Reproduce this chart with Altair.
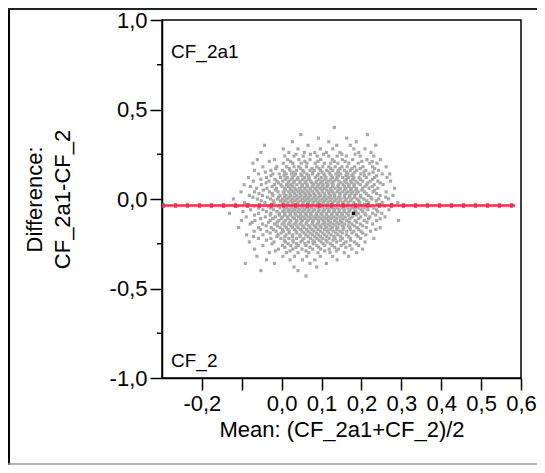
import altair as alt
import pandas as pd

# ---------------- data ----------------
diff_levels = [0.40, 0.36, 0.34, 0.32, 0.30, 0.28, 0.26, 0.24, 0.22, 0.20, 0.18, 0.16,
               0.14, 0.12, 0.10, 0.08, 0.06, 0.04, 0.02, 0.00, -0.02, -0.04, -0.06,
               -0.08, -0.10, -0.12, -0.14, -0.16, -0.18, -0.20, -0.22, -0.24, -0.26,
               -0.28, -0.30, -0.32, -0.34, -0.36, -0.38, -0.40, -0.43]

mean_rows = [
    [0.132],
    [0.048, 0.215],
    [0.092, 0.163],
    [0.027, 0.118, 0.187],
    [-0.043, 0.066, 0.138, 0.172, 0.236],
    [0.004, 0.041, 0.097, 0.128, 0.181, 0.209],
    [-0.052, 0.018, 0.057, 0.083, 0.112, 0.146, 0.193, 0.224],
    [0.008, 0.031, 0.054, 0.089, 0.118, 0.139, 0.162, 0.197, 0.231],
    [-0.061, -0.018, 0.015, 0.043, 0.071, 0.098, 0.127, 0.152, 0.178, 0.214, 0.248],
    [-0.072, 0.004, 0.028, 0.049, 0.063, 0.084, 0.107, 0.123, 0.141, 0.168, 0.192, 0.221, 0.239],
    [-0.047, -0.012, 0.012, 0.031, 0.043, 0.062, 0.088, 0.103, 0.118, 0.134, 0.151, 0.164, 0.183, 0.204, 0.228, 0.262],
    [-0.068, -0.027, 0.002, 0.021, 0.037, 0.053, 0.071, 0.082, 0.097, 0.113, 0.128, 0.142, 0.157, 0.172, 0.188, 0.211, 0.243],
    [-0.058, -0.022, -0.006, 0.011, 0.024, 0.035, 0.048, 0.063, 0.077, 0.092, 0.106, 0.121, 0.136, 0.148, 0.166, 0.179, 0.198, 0.219, 0.252, 0.271],
    [-0.083, -0.038, -0.003, 0.014, 0.027, 0.041, 0.058, 0.069, 0.084, 0.099, 0.111, 0.127, 0.139, 0.153, 0.167, 0.181, 0.194, 0.212, 0.233, 0.264],
    [-0.071, -0.032, -0.012, 0.003, 0.018, 0.032, 0.046, 0.061, 0.073, 0.088, 0.102, 0.117, 0.131, 0.144, 0.158, 0.173, 0.186, 0.203, 0.222, 0.241, 0.273],
    [-0.094, -0.051, -0.018, -0.002, 0.012, 0.023, 0.038, 0.052, 0.064, 0.079, 0.093, 0.104, 0.116, 0.129, 0.142, 0.154, 0.169, 0.182, 0.197, 0.213, 0.232, 0.254],
    [-0.063, -0.037, -0.013, 0.008, 0.021, 0.033, 0.044, 0.057, 0.071, 0.083, 0.096, 0.108, 0.122, 0.134, 0.147, 0.161, 0.174, 0.188, 0.203, 0.219, 0.241, 0.283],
    [-0.102, -0.068, -0.031, -0.009, 0.004, 0.017, 0.029, 0.042, 0.053, 0.066, 0.078, 0.091, 0.103, 0.117, 0.128, 0.139, 0.152, 0.166, 0.178, 0.192, 0.208, 0.229, 0.262],
    [-0.081, -0.048, -0.022, -0.004, 0.011, 0.023, 0.037, 0.049, 0.061, 0.072, 0.084, 0.097, 0.109, 0.122, 0.133, 0.146, 0.158, 0.171, 0.183, 0.198, 0.217, 0.247, 0.279],
    [-0.121, -0.061, -0.028, -0.011, 0.002, 0.014, 0.027, 0.039, 0.052, 0.064, 0.076, 0.088, 0.101, 0.113, 0.124, 0.137, 0.149, 0.162, 0.176, 0.189, 0.206, 0.226, 0.243, 0.268],
    [-0.093, -0.042, -0.019, 0.003, 0.016, 0.028, 0.041, 0.054, 0.067, 0.079, 0.091, 0.104, 0.116, 0.128, 0.141, 0.153, 0.167, 0.181, 0.196, 0.218, 0.252, 0.291],
    [-0.112, -0.069, -0.033, -0.008, 0.007, 0.021, 0.036, 0.048, 0.061, 0.073, 0.086, 0.098, 0.111, 0.123, 0.136, 0.148, 0.161, 0.174, 0.187, 0.201, 0.223, 0.258],
    [-0.078, -0.047, -0.021, 0.006, 0.019, 0.032, 0.044, 0.057, 0.069, 0.082, 0.094, 0.107, 0.119, 0.132, 0.144, 0.157, 0.171, 0.184, 0.199, 0.216, 0.238, 0.269],
    [-0.131, -0.058, -0.027, -0.006, 0.008, 0.022, 0.034, 0.047, 0.059, 0.072, 0.087, 0.099, 0.112, 0.126, 0.138, 0.151, 0.163, 0.192, 0.209, 0.228, 0.251],
    [-0.089, -0.041, -0.016, 0.002, 0.014, 0.028, 0.042, 0.054, 0.068, 0.081, 0.093, 0.106, 0.118, 0.131, 0.146, 0.159, 0.177, 0.198, 0.221, 0.259],
    [-0.101, -0.067, -0.029, -0.007, 0.009, 0.023, 0.038, 0.052, 0.066, 0.079, 0.092, 0.104, 0.117, 0.133, 0.147, 0.163, 0.184, 0.207, 0.238, 0.293],
    [-0.079, -0.048, -0.018, 0.001, 0.017, 0.031, 0.046, 0.061, 0.076, 0.089, 0.103, 0.116, 0.129, 0.144, 0.158, 0.176, 0.197, 0.228],
    [-0.108, -0.058, -0.026, -0.004, 0.012, 0.027, 0.041, 0.056, 0.071, 0.086, 0.099, 0.112, 0.127, 0.141, 0.156, 0.171, 0.189, 0.212, 0.247],
    [-0.069, -0.037, -0.014, 0.004, 0.019, 0.036, 0.051, 0.066, 0.081, 0.097, 0.114, 0.129, 0.146, 0.163, 0.181, 0.199, 0.223],
    [-0.088, -0.047, -0.009, 0.011, 0.028, 0.046, 0.061, 0.077, 0.092, 0.108, 0.124, 0.141, 0.162, 0.187, 0.211],
    [-0.058, -0.027, -0.002, 0.018, 0.037, 0.056, 0.072, 0.088, 0.103, 0.119, 0.134, 0.152, 0.172, 0.198, 0.231],
    [-0.081, -0.019, 0.009, 0.029, 0.048, 0.067, 0.083, 0.099, 0.114, 0.138, 0.161, 0.182, 0.209],
    [-0.047, 0.002, 0.023, 0.042, 0.061, 0.088, 0.108, 0.127, 0.149, 0.171, 0.193],
    [-0.068, -0.008, 0.028, 0.051, 0.078, 0.098, 0.119, 0.142, 0.176, 0.203],
    [-0.031, 0.012, 0.041, 0.068, 0.091, 0.121, 0.157, 0.188],
    [-0.062, 0.003, 0.032, 0.063, 0.097, 0.128, 0.168],
    [-0.038, 0.021, 0.052, 0.083, 0.139],
    [-0.091, -0.018, 0.071, 0.112],
    [0.031, 0.088],
    [-0.052, 0.041],
    [0.061],
]

# in-between levels of the dense core
core_levels = [0.25, 0.21, 0.17, 0.15, 0.13, 0.11, 0.09, 0.07, 0.05, 0.03, 0.01, -0.01,
               -0.03, -0.05, -0.07, -0.09, -0.11, -0.13, -0.15, -0.17, -0.19, -0.21,
               -0.23, -0.25, -0.27, -0.29]

core_rows = [
    [0.036, 0.072, 0.105, 0.151, 0.184],
    [-0.031, 0.022, 0.058, 0.091, 0.132, 0.159, 0.201, 0.227],
    [-0.015, 0.019, 0.047, 0.076, 0.094, 0.123, 0.146, 0.176, 0.197, 0.233],
    [-0.041, 0.007, 0.029, 0.056, 0.078, 0.101, 0.119, 0.141, 0.163, 0.183, 0.206, 0.229],
    [-0.027, 0.006, 0.031, 0.051, 0.067, 0.089, 0.108, 0.124, 0.142, 0.161, 0.176, 0.207, 0.238],
    [-0.052, -0.017, 0.009, 0.024, 0.039, 0.053, 0.068, 0.094, 0.109, 0.123, 0.137, 0.162, 0.178, 0.197, 0.228],
    [-0.039, -0.008, 0.016, 0.029, 0.046, 0.059, 0.076, 0.086, 0.098, 0.112, 0.126, 0.149, 0.163, 0.176, 0.191, 0.216, 0.247],
    [-0.078, -0.024, 0.001, 0.016, 0.028, 0.051, 0.064, 0.077, 0.089, 0.102, 0.114, 0.128, 0.141, 0.157, 0.168, 0.181, 0.209, 0.227],
    [-0.046, -0.016, 0.009, 0.024, 0.036, 0.048, 0.061, 0.073, 0.087, 0.101, 0.113, 0.124, 0.143, 0.158, 0.173, 0.186, 0.201, 0.233],
    [-0.057, -0.024, 0.006, 0.021, 0.033, 0.046, 0.058, 0.069, 0.081, 0.094, 0.107, 0.119, 0.131, 0.146, 0.161, 0.174, 0.187, 0.212, 0.238],
    [-0.072, -0.036, -0.008, 0.007, 0.019, 0.031, 0.044, 0.057, 0.068, 0.081, 0.093, 0.106, 0.118, 0.131, 0.143, 0.157, 0.169, 0.183, 0.198, 0.224, 0.261],
    [-0.051, -0.021, -0.003, 0.009, 0.023, 0.034, 0.047, 0.059, 0.071, 0.084, 0.096, 0.108, 0.121, 0.133, 0.146, 0.159, 0.172, 0.193, 0.213, 0.237],
    [-0.083, -0.026, 0.001, 0.013, 0.026, 0.039, 0.052, 0.064, 0.077, 0.089, 0.102, 0.114, 0.127, 0.141, 0.153, 0.166, 0.179, 0.194, 0.208, 0.239, 0.276],
    [-0.058, -0.029, -0.004, 0.012, 0.026, 0.039, 0.052, 0.063, 0.076, 0.091, 0.103, 0.115, 0.127, 0.139, 0.152, 0.166, 0.178, 0.192, 0.207, 0.231],
    [-0.097, -0.038, -0.012, 0.003, 0.016, 0.028, 0.041, 0.053, 0.066, 0.078, 0.092, 0.104, 0.118, 0.131, 0.144, 0.157, 0.169, 0.186, 0.203, 0.241],
    [-0.068, -0.029, -0.006, 0.008, 0.021, 0.036, 0.048, 0.062, 0.074, 0.087, 0.101, 0.113, 0.125, 0.139, 0.152, 0.168, 0.187, 0.211, 0.236],
    [-0.053, -0.022, -0.001, 0.016, 0.032, 0.047, 0.059, 0.073, 0.086, 0.099, 0.112, 0.124, 0.138, 0.154, 0.171, 0.193, 0.218, 0.247],
    [-0.074, -0.033, -0.011, 0.006, 0.021, 0.036, 0.049, 0.063, 0.078, 0.093, 0.108, 0.122, 0.138, 0.151, 0.169, 0.188, 0.214],
    [-0.039, -0.011, 0.008, 0.023, 0.038, 0.053, 0.068, 0.082, 0.096, 0.109, 0.121, 0.136, 0.152, 0.167, 0.182, 0.203],
    [-0.053, -0.021, 0.002, 0.016, 0.032, 0.047, 0.062, 0.076, 0.091, 0.107, 0.121, 0.138, 0.154, 0.172, 0.193, 0.236],
    [-0.029, -0.001, 0.019, 0.038, 0.056, 0.071, 0.087, 0.103, 0.118, 0.136, 0.152, 0.176, 0.203],
    [-0.071, -0.012, 0.008, 0.027, 0.046, 0.066, 0.083, 0.097, 0.113, 0.131, 0.148, 0.168, 0.191],
    [-0.038, 0.007, 0.028, 0.052, 0.078, 0.094, 0.111, 0.129, 0.147, 0.173],
    [-0.024, 0.016, 0.037, 0.058, 0.079, 0.104, 0.122, 0.156, 0.188],
    [0.008, 0.036, 0.071, 0.093, 0.133, 0.161],
    [-0.016, 0.021, 0.061, 0.108, 0.137],
]

highlight_mean = [0.18]
highlight_diff = [-0.08]

mean_difference = -0.037
line_start = -0.3
line_end = 0.585

x_ticks = [-0.2, -0.1, 0.0, 0.1, 0.2, 0.3, 0.4, 0.5, 0.6]
y_ticks = [-1.0, -0.5, 0.0, 0.5, 1.0]
y_minor_ticks = [-0.75, -0.25, 0.25, 0.75]
corner_labels = ["CF_2a1", "CF_2"]

x_title = "Mean: (CF_2a1+CF_2)/2"
y_title = ["Difference:", "CF_2a1-CF_2"]

# ---------------- tables ----------------
rows = []
for d, ms in list(zip(diff_levels, mean_rows)) + list(zip(core_levels, core_rows)):
    for m in ms:
        rows.append({"mean": m, "diff": d})
points = pd.DataFrame(rows)
highlight = pd.DataFrame({"mean": highlight_mean, "diff": highlight_diff})
mean_line = pd.DataFrame({"x": [line_start], "x2": [line_end], "y": [mean_difference]})
minor = pd.DataFrame({"v": y_minor_ticks})

FONT = "Liberation Sans"
RED = "#e8334b"
GRAY = "#a8a8a8"

fmt = "replace(replace(format(datum.value, '.1f'), '.', ','), '\u2212', '-')"

x_scale = alt.Scale(domain=[-0.3, 0.6], nice=False, zero=False)
y_scale = alt.Scale(domain=[-1.0, 1.0], nice=False, zero=False)

x_axis = alt.Axis(values=x_ticks, labelExpr="abs(datum.value + 0.1) < 0.01 ? '' : " + fmt,
                  tickSize=12, labelPadding=3, titlePadding=5, grid=False,
                  labelFlush=False, labelOverlap=False)
y_axis = alt.Axis(values=y_ticks, labelExpr=fmt, tickSize=12, labelPadding=3,
                  titlePadding=35, titleLineHeight=28, grid=False, labelFlush=False,
                  labelOverlap=False)


def X(field):
    return alt.X(field, type="quantitative", scale=x_scale, axis=x_axis, title=x_title)


def Y(field):
    return alt.Y(field, type="quantitative", scale=y_scale, axis=y_axis, title=y_title)


pts_layer = alt.Chart(points).mark_square(size=10, color=GRAY, opacity=1, strokeWidth=0).encode(
    x=X("mean"), y=Y("diff"))

hl_layer = alt.Chart(highlight).mark_square(size=12, color="black", opacity=1, strokeWidth=0).encode(
    x=X("mean"), y=Y("diff"))

line_layer = alt.Chart(mean_line).mark_rule(color=RED, strokeWidth=2.5).encode(
    x=X("x"), x2="x2", y=Y("y"))

marker_layer = alt.Chart(mean_line).mark_rule(color=RED, strokeWidth=4.5, strokeDash=[3, 9]).encode(
    x=X("x"), x2="x2", y=Y("y"))

minor_layer = alt.Chart(minor).mark_rule(color="black", strokeWidth=1.5).encode(
    y=Y("v"), x=alt.value(-5), x2=alt.value(0))

top_label = alt.Chart(pd.DataFrame({"t": [corner_labels[0]]})).mark_text(
    align="left", baseline="alphabetic", font=FONT, fontSize=19, color="black").encode(
    text="t:N", x=alt.value(9), y=alt.value(38))

bottom_label = alt.Chart(pd.DataFrame({"t": [corner_labels[1]]})).mark_text(
    align="left", baseline="alphabetic", font=FONT, fontSize=19, color="black").encode(
    text="t:N", x=alt.value(9), y=alt.value(347))

border_left = alt.Chart(pd.DataFrame({"a": [0]})).mark_rule(color="black", strokeWidth=2).encode(
    x=alt.value(-153), y=alt.value(-11), y2=alt.value(445))
border_top = alt.Chart(pd.DataFrame({"a": [0]})).mark_rule(color="#222222", strokeWidth=2).encode(
    x=alt.value(-154), x2=alt.value(380), y=alt.value(-11))
border_bottom = alt.Chart(pd.DataFrame({"a": [0]})).mark_rule(color="#999999", strokeWidth=1.5).encode(
    x=alt.value(-154), x2=alt.value(380), y=alt.value(444))

chart = alt.layer(
    pts_layer, hl_layer, line_layer, marker_layer, minor_layer,
    top_label, bottom_label, border_left, border_top, border_bottom
).properties(
    width=359, height=358,
    autosize=alt.AutoSizeParams(type="none"),
    padding={"left": 154, "top": 12, "right": 16, "bottom": 87},
    background="white",
).configure_view(
    stroke="black", strokeWidth=1.5
).configure_axis(
    domainColor="black", domainWidth=1.5, tickColor="black", tickWidth=1.5,
    labelColor="black", titleColor="black", labelFont=FONT, titleFont=FONT,
    labelFontSize=22, titleFontSize=22, titleFontWeight="normal",
)

chart.save("out.html", embed_options={"renderer": "svg", "actions": False})
